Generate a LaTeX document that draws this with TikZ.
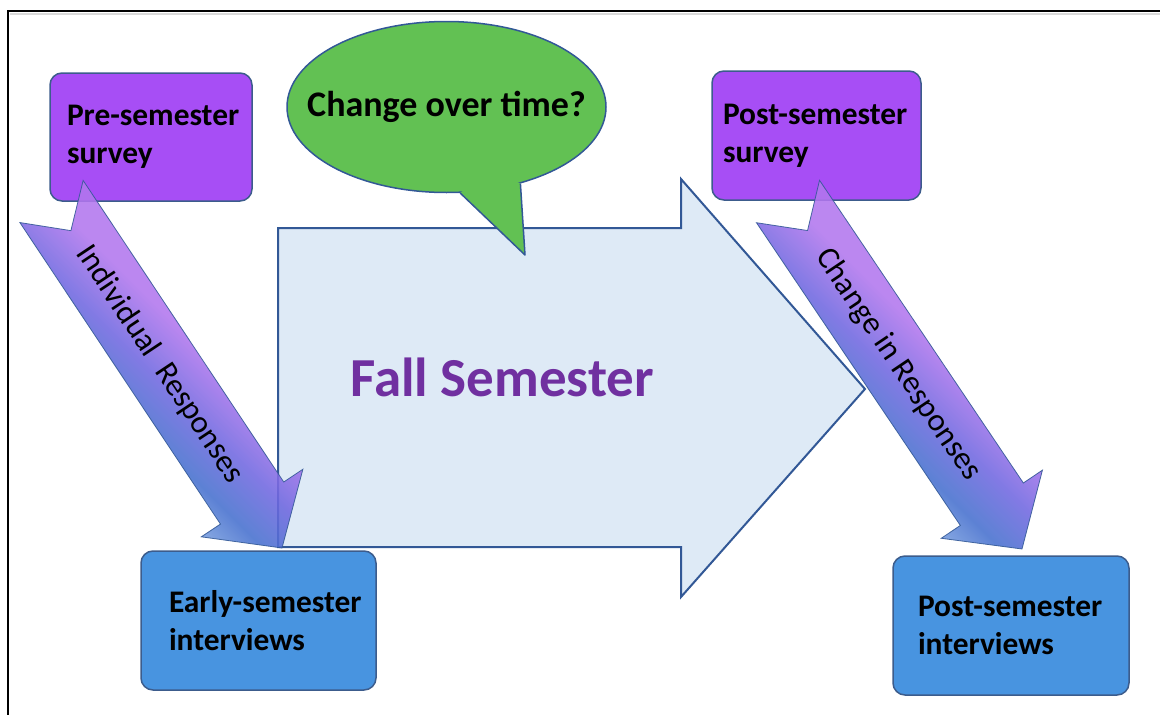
\documentclass[tikz,border=0pt]{standalone}
\usepackage{fontspec}
\setmainfont{Carlito}
\usetikzlibrary{calc,shapes.geometric}

\definecolor{boxline}{RGB}{60,92,140}
\definecolor{surveyfill}{RGB}{167,78,245}
\definecolor{intfill}{RGB}{72,148,224}
\definecolor{talkfill}{RGB}{98,193,83}
\definecolor{semfill}{RGB}{222,234,246}
\definecolor{semline}{RGB}{50,88,150}
\definecolor{semtext}{RGB}{112,48,160}
\definecolor{fattop}{RGB}{178,118,238}
\definecolor{fatvio}{RGB}{112,104,224}
\definecolor{fatmid}{RGB}{70,112,206}
\definecolor{fatbot}{RGB}{160,194,236}

% violet on one side, blue in the middle, pale blue on the other
\pgfdeclareverticalshading{fatshade}{100bp}{color(0bp)=(fatbot); color(31bp)=(fatbot);
  color(41bp)=(fatmid); color(48bp)=(fatvio); color(56bp)=(fattop); color(100bp)=(fattop)}

% broad notched arrow from #1 (tail) to #2 (tip), labelled #3
\newcommand\fatarrow[3]{%
  \coordinate (fa-base) at ($(#2)!54pt!(#1)$);
  \path[fatarrow] ($(#1)!38pt!90:(#2)$) -- ($(fa-base)!38pt!90:(#2)$)
    -- ($(fa-base)!61pt!90:(#2)$) -- (#2) -- ($(fa-base)!61pt!-90:(#2)$)
    -- ($(fa-base)!38pt!-90:(#2)$) -- ($(#1)!38pt!-90:(#2)$)
    -- ($(#1)!35pt!(#2)$) -- cycle;
  \path (#1) -- (#2) node[pos=0.47,sloped,fatlabel] {#3};
}

\begin{document}
\begin{tikzpicture}[x=1pt,y=-1pt,
  box/.style={draw=boxline,line width=1.5pt,rounded corners=12pt,
    font=\fontsize{31.4}{38}\selectfont\bfseries,align=left,inner ysep=0pt},
  survey/.style={box,fill=surveyfill},
  interview/.style={box,fill=intfill},
  semester/.style={draw=semline,line width=2pt,fill=semfill},
  talk/.style={ellipse,draw=semline,line width=1.5pt,fill=talkfill,inner xsep=-30pt,inner ysep=-5pt,
    minimum width=319,minimum height=171,font=\fontsize{36}{42}\selectfont\bfseries},
  fatarrow/.style={draw=semline,line width=0.8pt,shading=fatshade,shading angle=-45,opacity=0.88},
  fatlabel/.style={font=\fontsize{32}{38}\selectfont,inner sep=0pt}]
\useasboundingbox (0,0) rectangle (1160,715);

% frame
\draw[gray!30,line width=1.5pt] (10,14) -- (1170,14);
\draw[line width=2.5pt] (8,725) -- (8,11) -- (1170,11);

% the semester arrow
\draw[semester] (278,228) -- (681,228) -- (681,179) -- (865,389) -- (681,597)
  -- (681,547) -- (278,547) -- cycle;
\node[anchor=base,text=semtext,font=\fontsize{55}{60}\selectfont\bfseries] (fall) at (502,396) {Fall Semester};

% surveys and interviews
\node[survey,minimum width=202,minimum height=128,inner xsep=17,text width=168] (presurvey) at (151,137) {\mbox{Pre-semester}\\survey};
\node[survey,minimum width=209,minimum height=129,inner xsep=11,text width=187] (postsurvey) at (816.5,135.5) {\mbox{Post-semester}\\survey};
\node[interview,minimum width=235,minimum height=139,inner xsep=28,text width=179] (earlyint) at (258.5,620.5) {\mbox{Early-semester}\\interviews};
\node[interview,minimum width=236,minimum height=139,inner xsep=25,text width=186] (postint) at (1011,625.5) {\mbox{Post-semester}\\interviews};

% speech bubble
\node[talk] (talk) at (446.5,107) {Change over time?};
\coordinate (talktip) at (525,255);
\fill[talkfill] (talk.-81) -- (talktip) -- (talk.-46) -- (490,170) -- cycle;
\draw[semline,line width=1.5pt,line join=round] (talk.-81) -- (talktip) -- (talk.-46);

% arrows between surveys and interviews
\coordinate (indtail) at (51.5,201.5);
\coordinate (indtip) at (282,548);
\fatarrow{indtail}{indtip}{Individual\ \ Responses}
\coordinate (chgtail) at (788,201.5);
\coordinate (chgtip) at (1022,549);
\fatarrow{chgtail}{chgtip}{Change in Responses}
\end{tikzpicture}
\end{document}
